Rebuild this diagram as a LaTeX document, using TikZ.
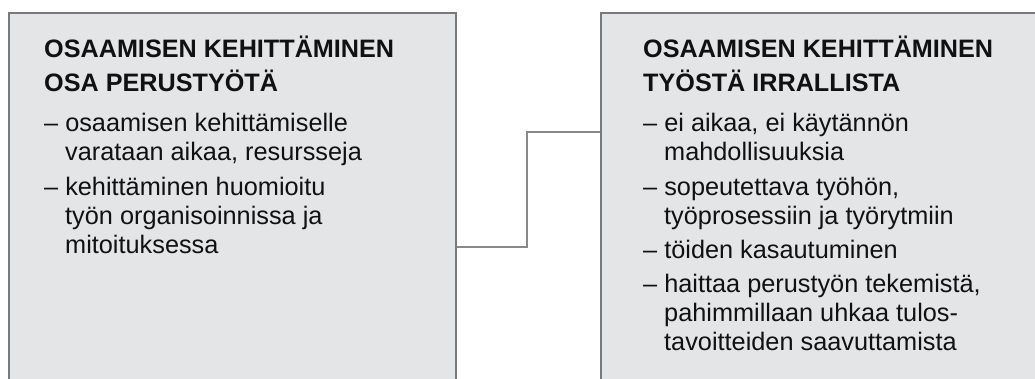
\documentclass[tikz,border=0pt]{standalone}
\usepackage{fontspec}
\setmainfont{Liberation Sans}
\definecolor{panelfill}{HTML}{E4E5E7}
\definecolor{paneledge}{HTML}{7A7A7C}
\definecolor{linkgray}{HTML}{88898B}
\definecolor{ink}{HTML}{111111}
\begin{document}
\begin{tikzpicture}[x=1pt,y=-1pt,
  panel/.style={draw=paneledge,fill=panelfill,line width=2.2pt,
    rectangle,anchor=north west,inner sep=0pt,minimum height=420pt},
  link/.style={draw=linkgray,line width=2pt},
  head/.style={anchor=base west,inner sep=0pt,text=ink,
    font=\fontsize{25.2}{30}\selectfont\bfseries},
  body/.style={anchor=base west,inner sep=0pt,text=ink,
    font=\fontsize{25.3}{30}\selectfont}]
\useasboundingbox (0,0) rectangle (1035,378);
\clip (0,0) rectangle (1035,378);

% the two panels run past the lower edge, the right one past the right edge
\node[panel,minimum width=447pt] (left) at (8,12) {};
\node[panel,minimum width=460pt] (right) at (600,12) {};

% stepped connector between the panels
\coordinate (lout) at ([yshift=-235pt]left.north east);
\coordinate (rin) at ([yshift=-120pt]right.north west);
\coordinate (mid) at (527,0);
\draw[link] (lout) -- (lout -| mid) |- (rin);

% left panel text
\node[head] (lh1) at (44,57) {OSAAMISEN KEHITTÄMINEN};
\node[head] (lh2) at (44,91) {OSA PERUSTYÖTÄ};
\node[body] (la1) at (44,131) {– osaamisen kehittämiselle};
\node[body] (la2) at (65,160) {varataan aikaa, resursseja};
\node[body] (lb1) at (44,195) {– kehittäminen huomioitu};
\node[body] (lb2) at (65,224) {työn organisoinnissa ja};
\node[body] (lb3) at (65,253) {mitoituksessa};

% right panel text
\node[head] (rh1) at (643,57) {OSAAMISEN KEHITTÄMINEN};
\node[head] (rh2) at (643,91) {TYÖSTÄ IRRALLISTA};
\node[body] (ra1) at (643,131) {– ei aikaa, ei käytännön};
\node[body] (ra2) at (664,160) {mahdollisuuksia};
\node[body] (rb1) at (643,195) {– sopeutettava työhön,};
\node[body] (rb2) at (664,224) {työprosessiin ja työrytmiin};
\node[body] (rc1) at (643,258) {– töiden kasautuminen};
\node[body] (rd1) at (643,292) {– haittaa perustyön tekemistä,};
\node[body] (rd2) at (664,321) {pahimmillaan uhkaa tulos-};
\node[body] (rd3) at (664,350) {tavoitteiden saavuttamista};
\end{tikzpicture}
\end{document}
